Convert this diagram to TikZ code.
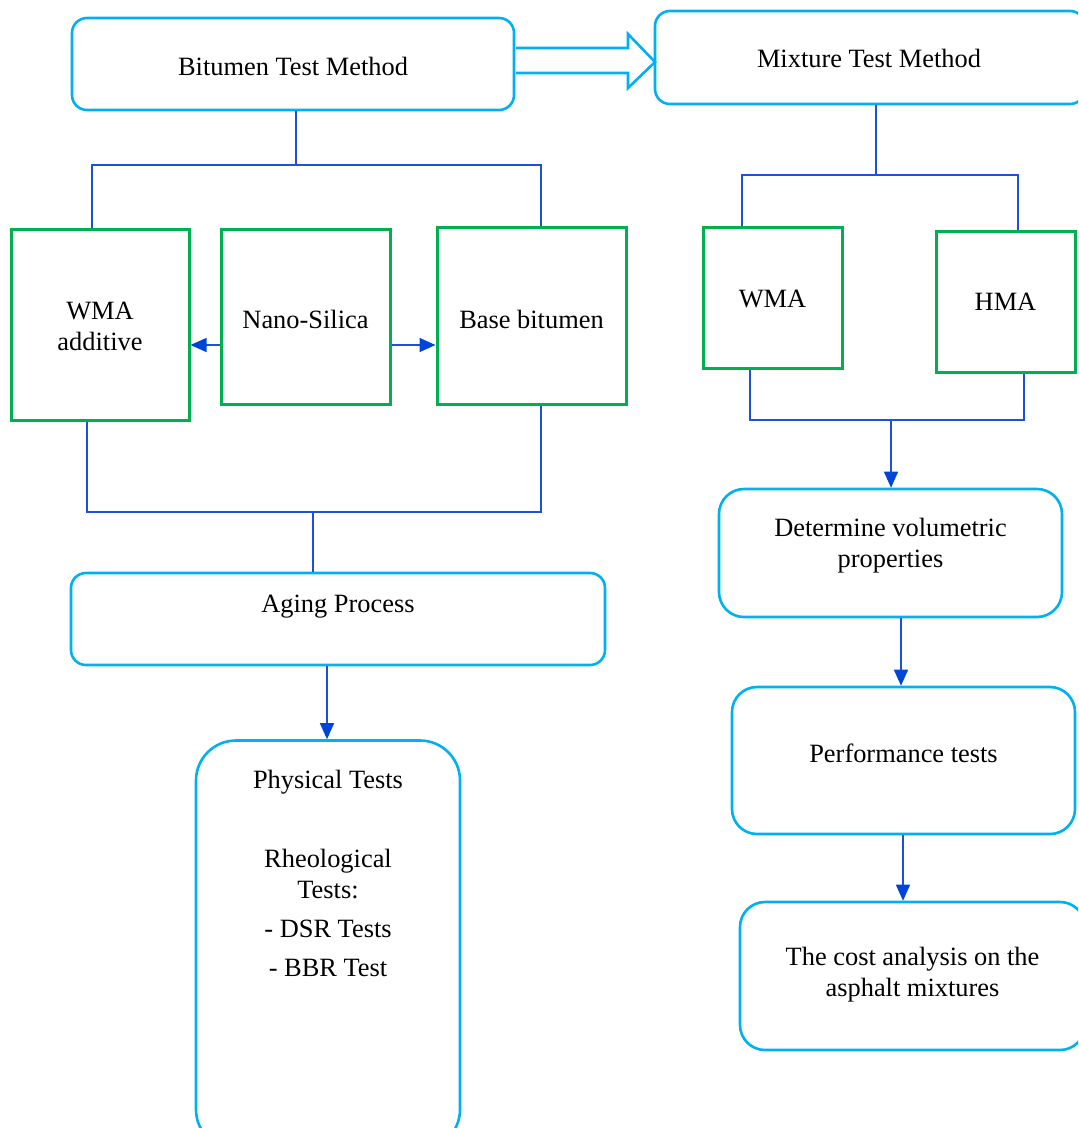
\documentclass[tikz,border=0pt]{standalone}
\usepackage{fontspec}
\setmainfont{Liberation Serif}
\usetikzlibrary{arrows.meta,calc}
\definecolor{cyanbox}{RGB}{0,176,240}
\definecolor{greenbox}{RGB}{0,176,80}
\definecolor{conncol}{RGB}{30,80,220}
\definecolor{tipcol}{RGB}{0,70,214}
\tikzset{
  txt/.style={font=\fontsize{13.2}{15.5}\selectfont, align=center, text=black},
  rbox/.style={draw=cyanbox, line width=1.3pt, rounded corners=#1, txt, inner sep=0pt},
  gbox/.style={draw=greenbox, line width=1.5pt, txt, inner sep=0pt},
  conn/.style={draw=conncol, line width=0.75pt},
  arr/.style={conn, -{Triangle[width=7pt,length=8pt,color=tipcol]}},
  blk/.style={draw=cyanbox, line width=1.3pt, fill=white},
}
\begin{document}
\begin{tikzpicture}[x=0.5pt,y=-0.5pt]
\useasboundingbox (0,0) rectangle (1078,1128);
\clip (0,0) rectangle (1078,1128);
% boxes
\node[rbox=7.5pt, minimum width=221pt, minimum height=46pt] (bit) at (293,64) {};
\node[txt] (bitt) at (293,66) {Bitumen Test Method};
\node[rbox=7.5pt, minimum width=215pt, minimum height=46.5pt] (mix) at (870,57.5) {};
\node[txt] (mixt) at (869,58) {Mixture Test Method};
\node[gbox, minimum width=89pt, minimum height=95pt] (wmaadd) at (100,325) {};
\node[txt] (wmaaddt) at (100,326.5) {WMA\\additive};
\node[gbox, minimum width=84.5pt, minimum height=87pt] (nano) at (305.5,317) {};
\node[txt] (nanot) at (305.5,319) {Nano-Silica};
\node[gbox, minimum width=94.5pt, minimum height=88pt] (base) at (531.5,316) {};
\node[txt] (baset) at (531.5,319) {Base bitumen};
\node[rbox=7.5pt, minimum width=267pt, minimum height=46pt] (aging) at (338,619) {};
\node[txt] (agingt) at (338,607) {Aging Process};
\node[rbox=20pt, minimum width=132pt, minimum height=204.5pt] (phys) at (328,945) {};
\node[txt] (p1) at (328,782) {Physical Tests};
\node[txt] (p2) at (328,874.5) {Rheological\\Tests:};
\node[txt] (p3) at (328,928.5) {- DSR Tests};
\node[txt] (p4) at (328,967.5) {- BBR Test};
\node[gbox, minimum width=69.5pt, minimum height=70pt] (wma) at (772.5,298) {};
\node[txt] (wmat) at (772.5,299) {WMA};
\node[gbox, minimum width=69.5pt, minimum height=70pt] (hma) at (1005.5,302) {};
\node[txt] (hmat) at (1005.5,302) {HMA};
\node[rbox=12.5pt, minimum width=171.5pt, minimum height=64pt] (det) at (890.5,553) {};
\node[txt] (dett) at (890.5,546) {Determine volumetric\\properties};
\node[rbox=12.5pt, minimum width=171.5pt, minimum height=73.5pt] (perf) at (903.5,760.5) {};
\node[txt] (perft) at (903.5,753) {Performance tests};
\node[rbox=12.5pt, minimum width=172.5pt, minimum height=74pt] (cost) at (912.5,976) {};
\node[txt] (costt) at (912.5,975) {The cost analysis on the\\asphalt mixtures};
% block arrow
\draw[blk] (516,48) -- (628,48) -- (628,34) -- (655,62) -- (628,88) -- (628,73) -- (516,73);
% left tree
\coordinate (b1) at (296,165);
\coordinate (b2) at (313,512);
\draw[conn] (bit.south -| b1) -- (b1);
\draw[conn] ([xshift=-4pt]wmaadd.north) |- (b1) -| ([xshift=4.75pt]base.north);
\draw[arr] ([yshift=-14pt]nano.west) -- ([yshift=-14pt]nano.west -| wmaadd.east);
\draw[arr] ([yshift=-14pt]nano.east) -- ([yshift=-14pt]nano.east -| base.west);
\draw[conn] ([xshift=-6.5pt]wmaadd.south) |- (b2) -| ([xshift=4.75pt]base.south);
\draw[conn] (b2) -- (aging.north -| b2);
\coordinate (a0) at ([xshift=-0.5pt]phys.north);
\draw[arr] (aging.south -| a0) -- (a0);
% right tree
\coordinate (m1) at (876,175);
\coordinate (m2) at (891,420);
\draw[conn] (mix.south -| m1) -- (m1);
\draw[conn] ([xshift=-15.25pt]wma.north) |- (m1) -| ([xshift=6.25pt]hma.north);
\draw[conn] ([xshift=-11.25pt]wma.south) |- (m2) -| ([xshift=9.25pt]hma.south);
\draw[arr] (m2) -- (det.north -| m2);
\coordinate (c0) at ([xshift=5.25pt]det.south);
\draw[arr] (c0) -- (c0 |- perf.north);
\coordinate (c1) at ([xshift=-4.75pt]cost.north);
\draw[arr] (perf.south -| c1) -- (c1);
\end{tikzpicture}
\end{document}
